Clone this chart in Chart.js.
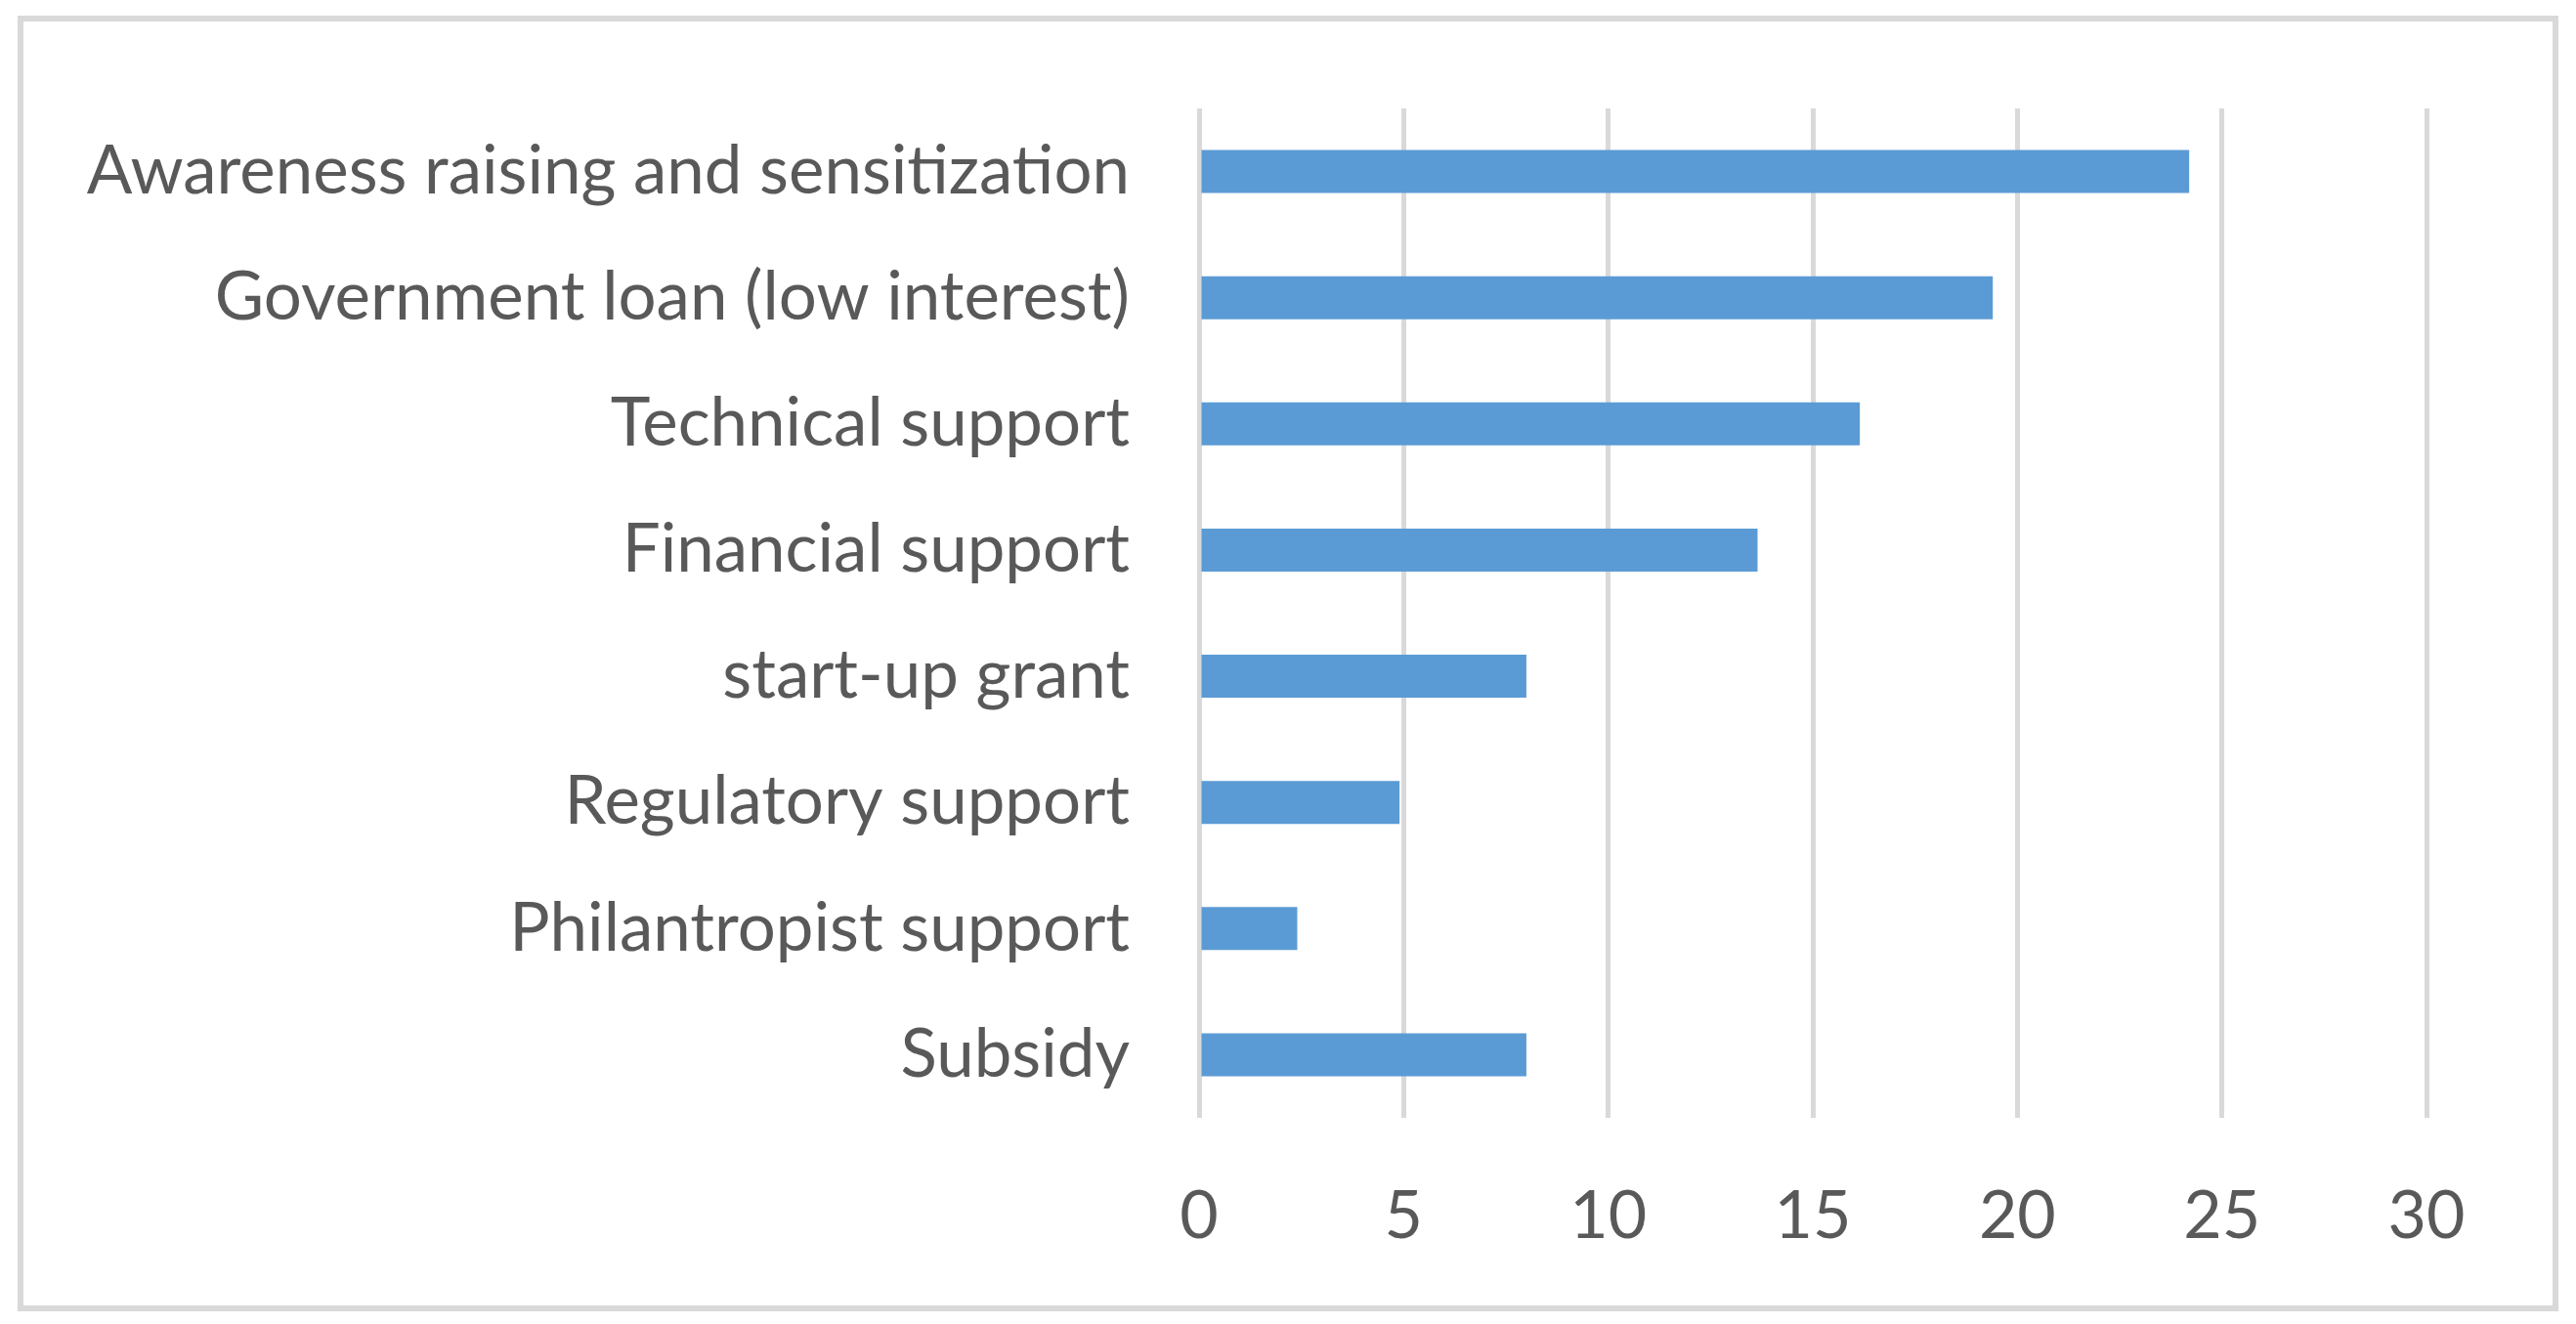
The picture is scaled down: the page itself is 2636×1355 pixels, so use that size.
<!DOCTYPE html>
<html>
<head>
<meta charset="utf-8">
<script src="https://cdn.jsdelivr.net/npm/chart.js@4"></script>
<style>
  html, body { margin: 0; padding: 0; background: #ffffff; }
  #wrap { position: absolute; left: 0; top: 0; width: 2636px; height: 1355px; }
  #frame {
    position: absolute; left: 18px; top: 16px; width: 2588px; height: 1314px;
    border: 6px solid #d9d9d9; pointer-events: none;
  }
  canvas { position: absolute; left: 0; top: 0; }
</style>
</head>
<body>
<div id="wrap">
  <canvas id="supportChart" width="2636" height="1355"></canvas>
  <div id="frame"></div>
</div>
<script>
const categories = [
  "Awareness raising and sensitization",
  "Government loan (low interest)",
  "Technical support",
  "Financial support",
  "start-up grant",
  "Regulatory support",
  "Philantropist support",
  "Subsidy"
];
const values = [24.2, 19.4, 16.15, 13.65, 8, 4.9, 2.4, 8];
const xTicks = [0, 5, 10, 15, 20, 25, 30];

const labelFont = { family: "Lato, 'Open Sans', sans-serif", size: 69 };
const tickFont = { family: "Lato, 'Open Sans', sans-serif", size: 68 };
const textColor = "#595959";
const gridColor = "#d9d9d9";

new Chart(document.getElementById("supportChart"), {
  type: "bar",
  data: {
    labels: categories,
    datasets: [
      {
        data: values,
        backgroundColor: "#5b9bd5",
        borderWidth: 0,
        barPercentage: 0.34,
        categoryPercentage: 1
      }
    ]
  },
  options: {
    indexAxis: "y",
    responsive: false,
    animation: false,
    devicePixelRatio: 1,
    layout: {
      padding: { left: 0, right: 153, top: 111, bottom: 0 }
    },
    plugins: {
      legend: { display: false },
      tooltip: { enabled: false }
    },
    scales: {
      x: {
        min: 0,
        max: 30,
        afterBuildTicks: function(scale) {
          scale.ticks = xTicks.map((v) => ({ value: v }));
        },
        afterFit: function(scale) {
          scale.height = 211;
        },
        grid: { color: gridColor, lineWidth: 5, drawTicks: false },
        border: { display: false },
        ticks: { color: textColor, font: tickFont, padding: 60 }
      },
      y: {
        afterFit: function(scale) {
          scale.width = 1227;
        },
        grid: { display: false },
        border: { display: false },
        ticks: { color: textColor, font: labelFont, padding: 63 }
      }
    }
  }
});
</script>
</body>
</html>
